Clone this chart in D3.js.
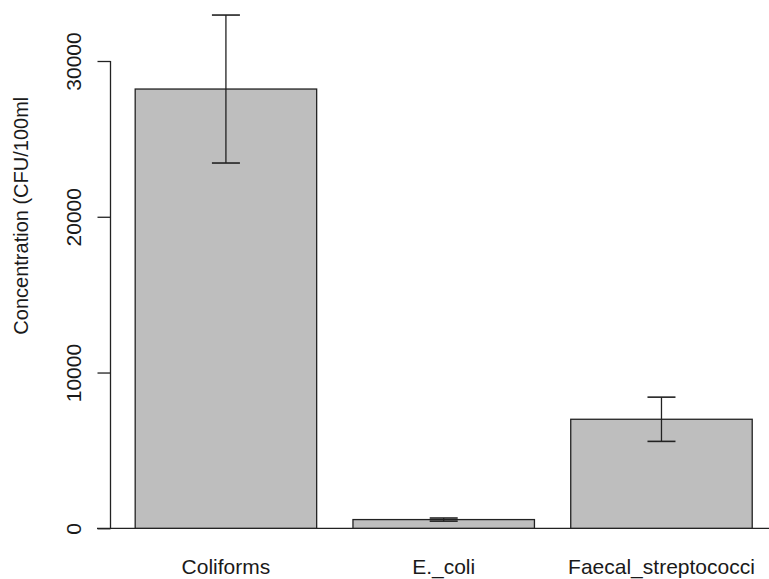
<!DOCTYPE html>
<html>
<head>
<meta charset="utf-8">
<script src="https://cdn.jsdelivr.net/npm/d3@7"></script>
<style>
  html, body { margin: 0; padding: 0; background: #fff; }
  svg { display: block; }
  text { font-family: "Liberation Sans", Arial, sans-serif; fill: #1a1a1a; }
</style>
</head>
<body>
<script>
// ---- Data ----
const categories = ["Coliforms", "E._coli", "Faecal_streptococci"];
const means = [28200, 560, 7000];
const errors = [4750, 100, 1420];
const yTicks = [0, 10000, 20000, 30000];
const yTitle = "Concentration (CFU/100ml";

const W = 769, H = 579;
const svg = d3.select("body").append("svg").attr("width", W).attr("height", H);

// R barplot-style coordinates: bars of width 1 separated by space 0.2
const barPos = categories.map((c, i) => 0.2 + i * 1.2);
const x = d3.scaleLinear().domain([0.064, 3.736]).range([110.5, 776.9]);
const y = d3.scaleLinear().domain([0, 30000]).range([528.3, 61]);

const stroke = "#222";

// baseline
svg.append("line")
  .attr("x1", 97).attr("x2", W)
  .attr("y1", y(0)).attr("y2", y(0))
  .attr("stroke", stroke).attr("stroke-width", 1.3);

// bars
svg.selectAll("rect.bar").data(categories).enter().append("rect")
  .attr("class", "bar")
  .attr("x", (d, i) => x(barPos[i]))
  .attr("width", (d, i) => x(barPos[i] + 1) - x(barPos[i]))
  .attr("y", (d, i) => y(means[i]))
  .attr("height", (d, i) => y(0) - y(means[i]))
  .attr("fill", "#bebebe")
  .attr("stroke", stroke).attr("stroke-width", 1.3);

// error bars
const capHalf = 14;
const eg = svg.selectAll("g.err").data(categories).enter().append("g").attr("class", "err");
eg.append("line")
  .attr("x1", (d, i) => x(barPos[i] + 0.5)).attr("x2", (d, i) => x(barPos[i] + 0.5))
  .attr("y1", (d, i) => y(means[i] + errors[i])).attr("y2", (d, i) => y(means[i] - errors[i]))
  .attr("stroke", stroke).attr("stroke-width", 1.3);
eg.append("line")
  .attr("x1", (d, i) => x(barPos[i] + 0.5) - capHalf).attr("x2", (d, i) => x(barPos[i] + 0.5) + capHalf)
  .attr("y1", (d, i) => y(means[i] + errors[i])).attr("y2", (d, i) => y(means[i] + errors[i]))
  .attr("stroke", stroke).attr("stroke-width", 1.6);
eg.append("line")
  .attr("x1", (d, i) => x(barPos[i] + 0.5) - capHalf).attr("x2", (d, i) => x(barPos[i] + 0.5) + capHalf)
  .attr("y1", (d, i) => y(means[i] - errors[i])).attr("y2", (d, i) => y(means[i] - errors[i]))
  .attr("stroke", stroke).attr("stroke-width", 1.6);

// y axis
const yAxis = d3.axisLeft(y).tickValues(yTicks).tickSize(13).tickSizeOuter(0).tickFormat(d3.format("d"));
const ga = svg.append("g").attr("transform", `translate(${x.range()[0]},0)`).call(yAxis);
ga.select(".domain").attr("stroke", stroke).attr("stroke-width", 1.3)
  .attr("d", `M0,${y(30000)}V${y(0)}`);
ga.selectAll(".tick line").attr("stroke", stroke).attr("stroke-width", 1.3);
ga.selectAll(".tick text")
  .attr("x", null).attr("dy", null)
  .attr("transform", "translate(-30,0) rotate(-90)")
  .attr("text-anchor", "middle")
  .style("font-family", "'Liberation Sans', Arial, sans-serif")
  .style("font-size", "21px")
  .attr("fill", "#1a1a1a");

// x category labels
svg.selectAll("text.xl").data(categories).enter().append("text")
  .attr("class", "xl")
  .attr("x", (d, i) => x(barPos[i] + 0.5))
  .attr("y", 574.3)
  .attr("text-anchor", "middle")
  .style("font-size", "21px")
  .text(d => d);

// y title
svg.append("text")
  .attr("transform", "translate(28,215.7) rotate(-90)")
  .attr("text-anchor", "middle")
  .style("font-size", "20px")
  .text(yTitle);
</script>
</body>
</html>
